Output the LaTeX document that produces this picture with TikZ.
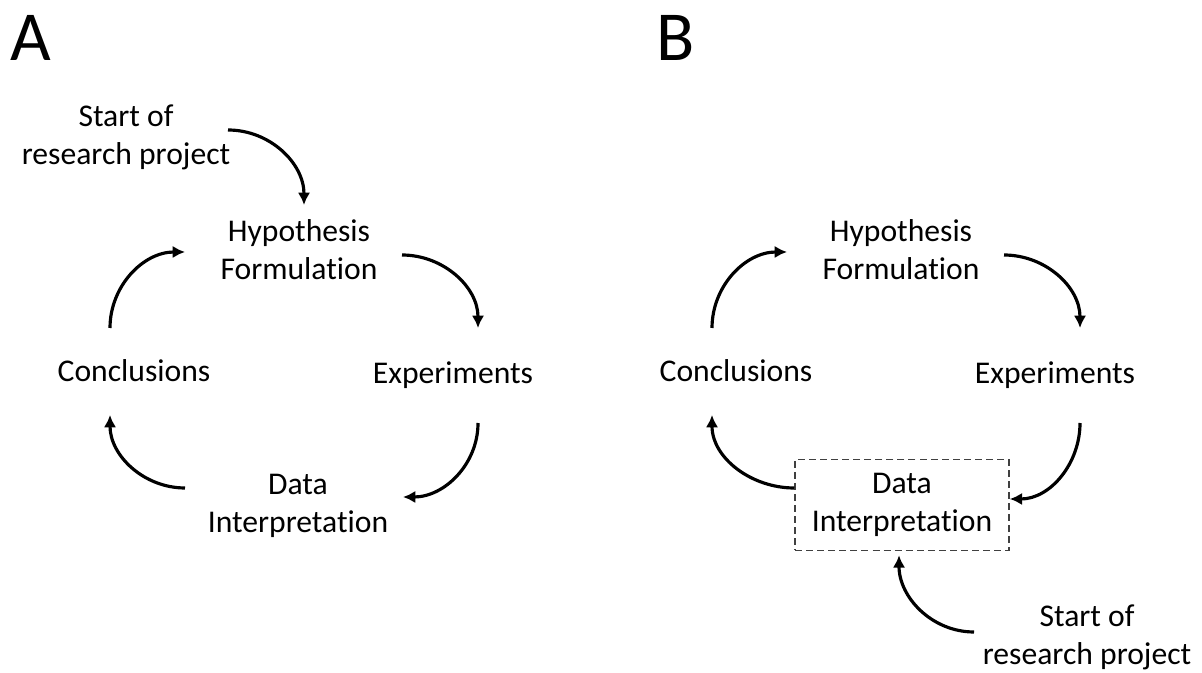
\documentclass[tikz,border=0pt]{standalone}
\usepackage{fontspec}
\setmainfont{Carlito}[Ligatures=NoCommon]
\usepackage{tikz}
\usetikzlibrary{arrows.meta,calc}
\tikzstyle{stage} = [inner sep=0pt, align=center, font=\fontsize{18}{21.6}\selectfont]
\tikzstyle{panel} = [inner sep=0pt, font=\fontsize{40}{48}\selectfont]
\tikzstyle{focus} = [draw=black!75, line width=0.9pt, dash pattern=on 4pt off 2.3pt,
    minimum width=4.28cm, minimum height=1.82cm]
\tikzstyle{line} = [draw, line width=1.8pt, -{Latex[length=7pt,width=7pt]}]

\begin{document}
\begin{tikzpicture}[x=0.02cm, y=0.02cm]
        \useasboundingbox (0,0) rectangle (1202,672);
        % panel A
        \node [panel] (labA) at (31,634.5) {A};
        \node [stage] (startA) at (126,535) {Start of\\research project};
        \node [stage] (hypA) at (299,422) {Hypothesis\\Formulation};
        \node [stage] (conA) at (134,301) {Conclusions};
        \node [stage] (expA) at (453,297) {Experiments};
        \node [stage] (dataA) at (298,166) {Data\\Interpretation};

        \path [line] ($(startA)+(102,7)$) to[out=0,in=90] ($(hypA)+(5,45)$);
        \path [line] ($(conA)+(-24,43)$) to[out=90,in=180] ($(hypA)+(-114,-2)$);
        \path [line] ($(hypA)+(103,-5)$) to[out=0,in=90] ($(expA)+(25,47)$);
        \path [line] ($(expA)+(25,-48)$) to[out=-90,in=0] ($(dataA)+(105,9)$);
        \path [line] ($(dataA)+(-113,18)$) to[out=180,in=-90] ($(conA)+(-24,-44)$);

        % panel B
        \node [panel] (labB) at (676,634.5) {B};
        \node [stage] (hypB) at (901,422) {Hypothesis\\Formulation};
        \node [stage] (conB) at (736,301) {Conclusions};
        \node [stage] (expB) at (1055,297) {Experiments};
        \node [stage, focus] (dataB) at (902,167) {Data\\Interpretation};
        \node [stage] (startB) at (1087,35) {Start of\\research project};

        \path [line] ($(conB)+(-24,43)$) to[out=90,in=180] ($(hypB)+(-114,-2)$);
        \path [line] ($(hypB)+(103,-5)$) to[out=0,in=90] ($(expB)+(25,47)$);
        \path [line] ($(expB)+(25,-48)$) to[out=-90,in=0] ($(dataB.east)+(0,6)$);
        \path [line] ($(dataB.west)+(0,17)$) to[out=180,in=-90] ($(conB)+(-24,-44)$);
        \path [line] ($(startB)+(-113,5)$) to[out=180,in=-90] ($(dataB.south)+(-3,-4)$);
    \end{tikzpicture}
\end{document}
